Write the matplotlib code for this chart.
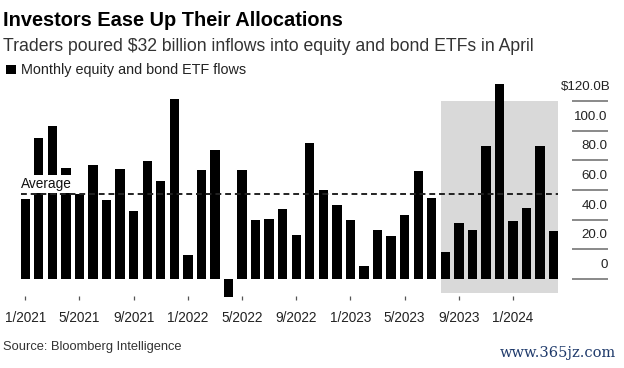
import matplotlib
matplotlib.use("Agg")
import matplotlib.pyplot as plt
import matplotlib.patches as mpatches
import numpy as np

plt.rcParams["font.family"] = ["Liberation Sans", "DejaVu Sans"]

# monthly equity + bond ETF flows, $B, 1/2021 .. 4/2024
flows = [54, 95, 103, 74.5, 57, 77, 53, 74, 46, 79.5, 66, 121.5,
         16, 73.5, 87, -12, 73.5, 40, 40.5, 47, 29.5, 91.5, 60, 49.5,
         40, 8.5, 33, 29, 43, 72.5, 54.5, 18, 38, 33, 89.5, 131, 39, 48, 89.5, 32]
average = 57.4
tick_pos = [0, 4, 8, 12, 16, 20, 24, 28, 32, 36]
tick_labels = ["1/2021", "5/2021", "9/2021", "1/2022", "5/2022", "9/2022",
               "1/2023", "5/2023", "9/2023", "1/2024"]
y_ticks = [0, 20, 40, 60, 80, 100, 120]
y_labels = ["0", "20.0", "40.0", "60.0", "80.0", "100.0", "$120.0B"]
shade_from, shade_to = 31, 39   # 8/2023 .. 4/2024

W, H = 624, 368
fig = plt.figure(figsize=(W / 100, H / 100), dpi=100)

# axes fills the width; limits chosen so bars land where the reference has them
ax_bottom, ax_top = 299.5, 75
ax = fig.add_axes([0, (H - ax_bottom) / H, 1, (ax_bottom - ax_top) / H])
x0, dx = 25.25, 13.55          # px of first bar, px per month
zero_px, unit = 279, 29.7 / 20  # px of zero line, px per $1B
ax.set_xlim((0 - x0) / dx, (W - x0) / dx)
ax.set_ylim((zero_px - ax_bottom) / unit, (zero_px - ax_top) / unit)

x = np.arange(len(flows))
bw = 0.69
ax.bar(x, flows, width=bw, color="black", zorder=2)

# highlighted period
ax.add_patch(mpatches.Rectangle((shade_from - bw / 2, -9.6),
                                shade_to - shade_from + bw, 120 + 9.6,
                                facecolor="#d9d9d9", edgecolor="none", zorder=1))

# average line
ax.hlines(average, -bw / 2, len(flows) - 1 + bw / 2, colors="#222222",
          linestyles=(0, (3, 2)), linewidth=1.4, zorder=4)
ax.text(-0.31, average + 6 / unit, "Average", fontsize=9.8, color="#111111",
        va="baseline", ha="left", zorder=3,
        bbox=dict(facecolor="white", edgecolor="none", pad=1.5))

# right-hand value scale
gx0, gx1 = (572.5 - x0) / dx, (607.6 - x0) / dx
for v, lab in zip(y_ticks, y_labels):
    ax.hlines(v, gx0, gx1, colors="#808080", linewidth=1.3)
    xr = gx1 if not lab.startswith("$") else (610.6 - x0) / dx
    ax.text(xr, v + 14 / unit, lab, fontsize=9.6, color="#222222",
            ha="right", va="center")

for s in ax.spines.values():
    s.set_visible(False)
ax.set_yticks([])
ax.set_xticks(tick_pos)
ax.set_xticklabels(tick_labels, fontsize=9.8, color="#222222")
ax.tick_params(axis="x", direction="in", length=3, width=0.9, color="#555555", pad=8)

# header
fig.text(3 / W, 1 - 26 / H, "Investors Ease Up Their Allocations",
         fontsize=14.4, fontweight="bold", color="black", va="baseline")
fig.text(3 / W, 1 - 50.7 / H,
         "Traders poured $32 billion inflows into equity and bond ETFs in April",
         fontsize=12.7, color="#333333", va="baseline")
fig.add_artist(mpatches.Rectangle((6 / W, 1 - 74 / H), 10 / W, 9.5 / H,
                                  transform=fig.transFigure, facecolor="black",
                                  edgecolor="none"))
fig.text(21 / W, 1 - 74 / H, "Monthly equity and bond ETF flows",
         fontsize=10.4, color="#222222", va="baseline")

# footer
fig.text(3 / W, 1 - 346.7 / H, "Source: Bloomberg Intelligence",
         fontsize=9.3, color="#333333", va="center")
fig.text(616 / W, 1 - 353 / H, "www.365jz.com", fontsize=10.5,
         family="DejaVu Serif", color="#1f3a6b", ha="right", va="center")

fig.savefig("out.png", dpi=100)
